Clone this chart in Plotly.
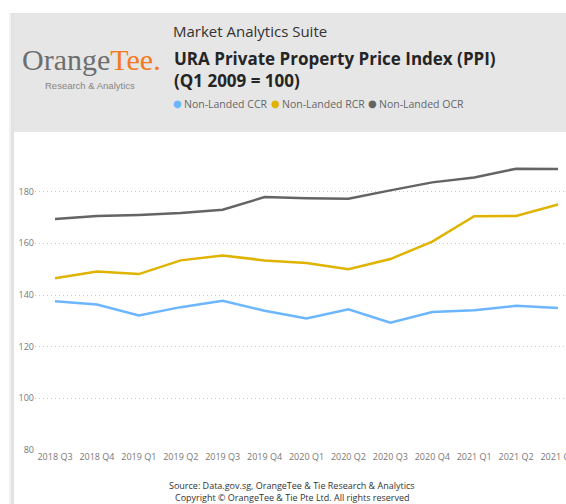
import plotly.graph_objects as go

quarters = ["2018 Q3", "2018 Q4", "2019 Q1", "2019 Q2", "2019 Q3", "2019 Q4", "2020 Q1",
            "2020 Q2", "2020 Q3", "2020 Q4", "2021 Q1", "2021 Q2", "2021 Q3"]
ccr = [137.6, 136.3, 132.1, 135.3, 137.8, 133.9, 130.9, 134.5, 129.3, 133.4, 134.1, 135.8, 135.0]
rcr = [146.5, 149.1, 148.1, 153.4, 155.3, 153.4, 152.4, 150.0, 153.9, 160.7, 170.5, 170.6, 175.0]
ocr = [169.4, 170.6, 171.0, 171.7, 173.0, 177.9, 177.5, 177.3, 180.5, 183.6, 185.5, 188.9, 188.8]
series_names = ["Non-Landed CCR", "Non-Landed RCR", "Non-Landed OCR"]
colors = ["#6cb6ff", "#dfb300", "#646464"]
y_ticks = [80, 100, 120, 140, 160, 180]

W, H = 566, 504
fig = go.Figure()
for name, vals, c in zip(series_names, [ccr, rcr, ocr], colors):
    fig.add_trace(go.Scatter(x=list(range(len(quarters))), y=vals, mode="lines", name=name,
                             line=dict(color=c, width=2.5), showlegend=False))


def px(x):
    return x / W


def py(y):
    return 1 - y / H


shapes = [
    dict(type="rect", xref="paper", yref="paper", x0=px(9), x1=px(11), y0=0, y1=py(13),
         fillcolor="#f2f2f2", line_width=0, layer="below"),
    dict(type="rect", xref="paper", yref="paper", x0=px(11), x1=px(14), y0=0, y1=py(13),
         fillcolor="#e2e2e2", line_width=0, layer="below"),
    dict(type="rect", xref="paper", yref="paper", x0=px(14), x1=1, y0=py(132), y1=py(13),
         fillcolor="#e6e6e6", line_width=0, layer="below"),
]

ann = []
font_main = "Segoe UI, Open Sans, sans-serif"
ann.append(dict(text="Market Analytics Suite", x=px(171), y=py(31), xanchor="left", yanchor="middle",
                font=dict(family=font_main, size=15, color="#333333")))
ann.append(dict(text="<b>URA Private Property Price Index (PPI)</b>", x=px(172), y=py(58),
                xanchor="left", yanchor="middle", font=dict(family=font_main, size=17, color="#252525")))
ann.append(dict(text="<b>(Q1 2009 = 100)</b>", x=px(172), y=py(81),
                xanchor="left", yanchor="middle", font=dict(family=font_main, size=17, color="#252525")))
dot_x = [177.5, 275, 372]
for dx, name, c in zip(dot_x, series_names, colors):
    ann.append(dict(text="●", x=px(dx), y=py(104), xanchor="center", yanchor="middle",
                    font=dict(family="DejaVu Sans", size=10, color=c)))
    ann.append(dict(text=name, x=px(dx + 4.5), y=py(104), xanchor="left", yanchor="middle",
                    font=dict(family=font_main, size=10.5, color="#666666")))
# logo
ann.append(dict(text="Orange<span style='color:#f47a20'>Tee.</span>", x=px(91), y=py(59),
                xanchor="center", yanchor="middle",
                font=dict(family="Liberation Serif, DejaVu Serif, serif", size=30, color="#6e6e6e")))
ann.append(dict(text="Research &amp; Analytics", x=px(90), y=py(85), xanchor="center", yanchor="middle",
                font=dict(family="Liberation Sans, Arial, sans-serif", size=9.5, color="#858585")))
# footer
ann.append(dict(text="Source: Data.gov.sg, OrangeTee &amp; Tie Research &amp; Analytics", x=px(292), y=py(485.5),
                xanchor="center", yanchor="middle", font=dict(family=font_main, size=9, color="#333333")))
ann.append(dict(text="Copyright © OrangeTee &amp; Tie Pte Ltd. All rights reserved", x=px(292), y=py(497.5),
                xanchor="center", yanchor="middle", font=dict(family=font_main, size=9, color="#333333")))
for a in ann:
    a.update(xref="paper", yref="paper", showarrow=False)

x0, x_first, spacing, x_last = 35, 55, 41.9, 558
fig.update_layout(
    width=W, height=H, margin=dict(l=0, r=0, t=0, b=0, pad=0),
    paper_bgcolor="white", plot_bgcolor="white",
    shapes=shapes, annotations=ann, showlegend=False,
    xaxis=dict(domain=[px(x0), 1], range=[-(x_first - x0) / spacing, 12 + (W - x_last) / spacing],
               tickmode="array", tickvals=list(range(len(quarters))), ticktext=quarters,
               showgrid=False, zeroline=False, showline=False, ticks="", ticklabeloverflow="allow",
               automargin=False,
               tickfont=dict(family=font_main, size=9, color="#777777")),
    yaxis=dict(domain=[py(450), py(140)], range=[80, 200], tickmode="array", tickvals=y_ticks,
               showgrid=True, gridcolor="#c8c8c8", griddash="1px,3px", gridwidth=1,
               zeroline=False, showline=False, ticks="", automargin=False,
               tickfont=dict(family=font_main, size=9, color="#777777")),
)
fig.write_html("out.html", config={"displayModeBar": False},
               post_script="document.body.style.margin='0';document.body.style.overflow='hidden';")
